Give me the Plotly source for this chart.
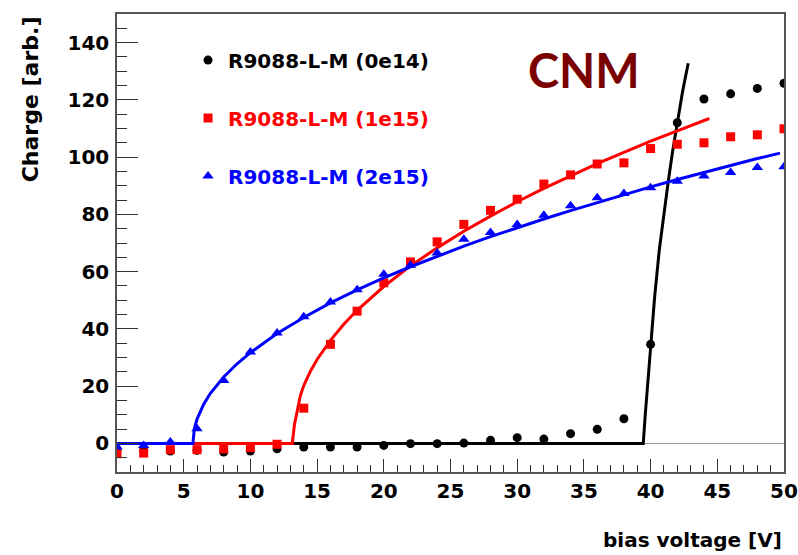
import plotly.graph_objects as go

# Bias scan points (V)
voltage = [0, 2, 4, 6, 8, 10, 12, 14, 16, 18, 20, 22, 24, 26, 28, 30,
           32, 34, 36, 38, 40, 42, 44, 46, 48, 50]

# Collected charge per fluence
charge_0e14 = [-2.0, -2.5, -2.7, -2.4, -3.0, -2.7, -1.9, -1.3, -1.3, -1.3, -0.7, -0.1, -0.1,
               0.1, 1.05, 2.0, 1.5, 3.4, 4.9, 8.6, 34.6, 112.0, 120.3, 122.1, 124.0, 125.8]
charge_1e15 = [-3.6, -3.4, -2.2, -2.2, -1.9, -1.5, -0.3, 12.3, 34.6, 46.2, 56.1, 63.4, 70.4,
               76.5, 81.4, 85.3, 90.6, 93.8, 97.6, 98.0, 103.0, 104.5, 105.0, 107.1, 107.8, 109.9]
charge_2e15 = [-1.3, -0.7, 0.5, 5.1, 22.0, 31.9, 38.6, 44.2, 49.4, 53.7, 59.1, 62.2, 66.5,
               71.3, 73.7, 76.5, 79.7, 83.0, 85.8, 87.3, 89.3, 91.6, 93.4, 94.6, 96.4, 96.6]

# Fitted curves
fit_0e14_v = [0, 39.45, 39.6, 39.8, 40.02, 40.3, 40.65, 41.0, 41.32, 41.65, 42.0, 42.4, 42.82]
fit_0e14_q = [0, 0, 10, 22, 34.9, 51, 67.5, 80.5, 91.4, 102, 112.3, 123, 132.8]

fit_1e15_v = [0, 13.14, 13.3, 13.5, 13.75, 14.0, 14.5, 15, 16, 17, 18, 20, 22, 24, 26, 28,
              30, 32, 34, 36, 38, 40, 42, 44.4]
fit_1e15_q = [0, 0, 6.5, 11.5, 16.8, 20.2, 25.2, 29.3, 36.0, 41.6, 46.5, 54.8, 62.0, 68.3,
              74.1, 79.4, 84.4, 89.1, 93.5, 97.7, 101.7, 105.6, 109.2, 113.5]

fit_2e15_v = [0, 5.69, 5.8, 6.0, 6.5, 7, 8, 9, 10, 12, 14, 16, 18, 20, 22, 24, 26, 28, 30,
              32, 34, 36, 38, 40, 42, 44, 46, 48, 49.7]
fit_2e15_q = [0, 0, 5.1, 8.5, 13.7, 17.5, 23.2, 27.8, 31.7, 38.4, 44.0, 49.1, 53.6, 57.8,
              61.7, 65.4, 68.9, 72.2, 75.4, 78.4, 81.3, 84.1, 86.9, 89.6, 92.2, 94.7, 97.1,
              99.5, 101.4]

series = [
    ("R9088-L-M (0e14)", "#000000", "circle", 9, charge_0e14, fit_0e14_v, fit_0e14_q),
    ("R9088-L-M (1e15)", "#ff0000", "square", 9, charge_1e15, fit_1e15_v, fit_1e15_q),
    ("R9088-L-M (2e15)", "#0000ff", "triangle-up", 10, charge_2e15, fit_2e15_v, fit_2e15_q),
]

FONT = "DejaVu Sans"

fig = go.Figure()
for i, (name, color, symbol, size, q, fv, fq) in enumerate(series):
    fig.add_trace(go.Scatter(
        x=voltage, y=q, mode="markers",
        name=f"<span style='color:{color}'>{name}</span>",
        legendgroup=f"g{i}",
        marker=dict(symbol=symbol, size=size, color=color, line=dict(width=0)),
        hoverinfo="x+y",
    ))
    fig.add_trace(go.Scatter(
        x=fv, y=fq, mode="lines", showlegend=False, legendgroup=f"g{i}",
        line=dict(color=color, width=3), hoverinfo="skip",
    ))

axis_common = dict(
    showline=True, mirror=True, linecolor="#555555", linewidth=1.5,
    ticks="inside", tickcolor="#333333", tickwidth=1,
    showgrid=False, automargin=False,
    tickfont=dict(family=FONT, size=20, weight="bold", color="black"),
)

fig.update_xaxes(
    range=[0, 50], tick0=0, dtick=5, ticklen=13,
    minor=dict(dtick=1, ticklen=7, ticks="inside", tickcolor="#333333", tickwidth=1),
    zeroline=False, ticklabelstandoff=0,
    **axis_common,
)
fig.update_yaxes(
    range=[-10, 150], tick0=0, dtick=20, ticklen=21,
    minor=dict(dtick=5, ticklen=10, ticks="inside", tickcolor="#333333", tickwidth=1),
    zeroline=True, zerolinecolor="#999999", zerolinewidth=1.2,
    ticklabelstandoff=2,
    **axis_common,
)

fig.update_layout(
    width=798, height=555,
    margin=dict(l=117, r=14, t=14, b=83, autoexpand=False),
    paper_bgcolor="white", plot_bgcolor="white",
    showlegend=True,
    legend=dict(
        x=0.1065, y=0.942, xanchor="left", yanchor="top",
        bgcolor="rgba(0,0,0,0)", borderwidth=0,
        font=dict(family=FONT, size=20, weight="bold"),
        tracegroupgap=29, itemsizing="trace",
    ),
    annotations=[
        dict(text="bias voltage [V]", xref="paper", yref="paper", x=1.0, y=-0.1485,
             xanchor="right", yanchor="middle", showarrow=False,
             font=dict(family=FONT, size=20, weight="bold", color="black")),
        dict(text="Charge [arb.]", xref="paper", yref="paper", x=-0.130, y=1.0,
             xanchor="center", yanchor="top", textangle=-90, showarrow=False,
             font=dict(family=FONT, size=22, weight="bold", color="black")),
        dict(text="CNM", xref="paper", yref="paper", x=0.700, y=0.878,
             xanchor="center", yanchor="middle", showarrow=False,
             font=dict(family="Lato", size=47, weight="bold", color="#7a0000")),
    ],
)

fig.write_html("out.html")
